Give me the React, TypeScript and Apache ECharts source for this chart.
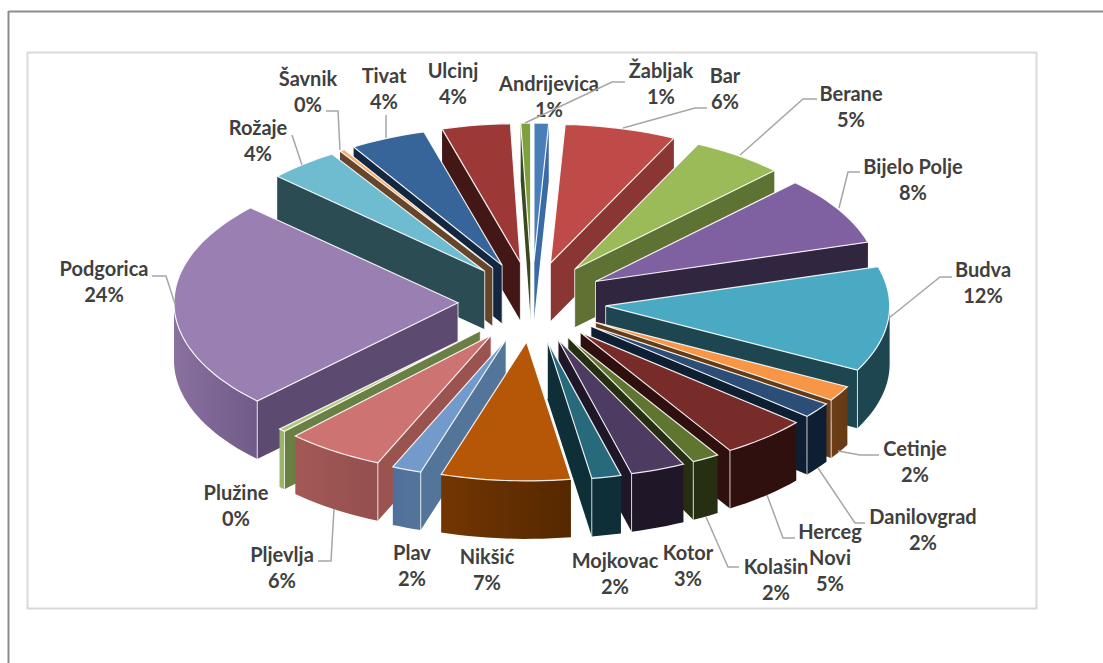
import React, { useEffect, useRef } from "react";
import * as echarts from "echarts";

const categories = [
  "Andrijevica", "Bar", "Berane", "Bijelo Polje", "Budva", "Cetinje", "Danilovgrad",
  "Herceg Novi", "Kolašin", "Kotor", "Mojkovac", "Nikšić", "Plav", "Pljevlja",
  "Plužine", "Podgorica", "Rožaje", "Šavnik", "Tivat", "Ulcinj", "Žabljak",
];
const shares = [
  0.83, 6.33, 5.25, 8.03, 12.22, 1.78, 1.81, 4.92, 1.56, 3.11, 1.67, 7.36, 1.67, 5.58,
  0.39, 24.47, 4.0, 0.28, 4.31, 3.89, 0.56,
];

const topColors = [
  "#4a7ebb", "#be4b48", "#9bbb59", "#7f60a0", "#4aa9c3", "#f79646", "#2c4d75", "#772c2a",
  "#5f7530", "#4d3b62", "#276a7c", "#b65708", "#729aca", "#cd7371", "#afc97a", "#9a7fb3",
  "#6fbbd0", "#f9ab6b", "#37659a", "#9c3836", "#7fa03f",
];
const wallColors = [
  "#3a6ba5", "#8a3634", "#5e7233", "#31263f", "#1d4650", "#653a16", "#0f1f33", "#30100f",
  "#272f12", "#1f1728", "#0f2f38", "#552800", "#54759a", "#9b5350", "#6a7f44", "#5c4a70",
  "#2c4c54", "#66452a", "#142740", "#421715", "#3b4a1e",
];
const outerLeft = [
  "#3a6ba5", "#8a3634", "#5e7233", "#31263f", "#1d4650", "#6b3f18", "#0f1f33", "#30100f",
  "#272f12", "#1f1728", "#0f2f38", "#733602", "#50709a", "#a45856", "#9ab56a", "#8a719f",
  "#2c4c54", "#66452a", "#142740", "#421715", "#3b4a1e",
];
const outerRight = [
  "#3a6ba5", "#8a3634", "#5e7233", "#31263f", "#1d4650", "#653a16", "#0f1f33", "#30100f",
  "#272f12", "#1f1728", "#0f2f38", "#552800", "#54759a", "#92504e", "#9ab56a", "#6f5a88",
  "#2c4c54", "#66452a", "#142740", "#421715", "#3b4a1e",
];

// label layout: centre of the text block
const labelCentres: [number, number][] = [
  [549, 96], [725, 88], [851, 106], [913, 179], [983, 282], [915, 461], [923, 529],
  [830, 557], [776, 579], [688, 565], [615, 573], [487, 569], [412, 565], [282, 567],
  [236, 505], [104, 281], [258, 140], [308, 91], [384, 88], [453, 83], [661, 83],
];
const labelLines: Record<string, string> = { "Herceg Novi": "Herceg\nNovi" };

// leader-line layout
const leaders: number[][][] = [
  [],
  [[707, 108], [695, 108], [623, 128]],
  [[817, 99], [803, 99], [740, 155]],
  [[860, 172], [848, 172], [839, 208]],
  [[952, 277], [940, 277], [889, 318]],
  [[879, 455], [860, 455], [838, 451]],
  [[865, 523], [855, 523], [818, 468]],
  [[795, 538], [783, 538], [767, 495]],
  [[739, 567], [728, 567], [706, 517]],
  [],
  [],
  [],
  [],
  [[318, 561], [331, 561], [334, 509]],
  [],
  [[152, 276], [166, 276], [175, 304]],
  [[292, 135], [302, 165]],
  [[326, 111], [338, 111], [340, 150]],
  [[386, 115], [386, 138]],
  [],
  [[625, 82], [612, 82], [525, 123]],
];

const CX = 532;
const CY = 302;
const RX = 284;
const RY = 139;
const DEPTH = 58;
const EX = 74;
const EY = 40;
const RAD = Math.PI / 180;

type Wedge = { index: number; a0: number; a1: number; mid: number; ax: number; ay: number };

const total = shares.reduce((s, v) => s + v, 0);
const wedges: Wedge[] = (() => {
  let acc = 0;
  return shares.map((v, index) => {
    const a0 = (acc / total) * 360;
    acc += v;
    const a1 = (acc / total) * 360;
    const mid = ((a0 + a1) / 2) * RAD;
    return { index, a0, a1, mid, ax: CX + EX * Math.sin(mid), ay: CY - EY * Math.cos(mid) };
  });
})();
const paintOrder = wedges
  .slice()
  .sort((p, q) => Math.cos(q.mid) - Math.cos(p.mid))
  .map((w) => w.index);

function rim(w: Wedge, deg: number): [number, number] {
  const t = deg * RAD;
  return [w.ax + RX * Math.sin(t), w.ay - RY * Math.cos(t)];
}
function arc(w: Wedge, from: number, to: number): [number, number][] {
  const n = Math.max(2, Math.ceil((to - from) / 2));
  const out: [number, number][] = [];
  for (let i = 0; i <= n; i++) out.push(rim(w, from + ((to - from) * i) / n));
  return out;
}
const drop = (p: [number, number]): [number, number] => [p[0], p[1] + DEPTH];

function renderWedge(_params: any, api: any) {
  const i = api.value(0) as number;
  const w = wedges[i];
  const children: any[] = [];
  const apex: [number, number] = [w.ax, w.ay];
  const edge = "rgba(255,255,255,0.9)";
  const wall = (c0: [number, number], c1: [number, number]) => ({
    type: "polygon",
    shape: { points: [c0, c1, drop(c1), drop(c0)] },
    style: { fill: wallColors[i] },
  });
  const vertical = (p: [number, number]) => ({
    type: "line",
    shape: { x1: p[0], y1: p[1], x2: p[0], y2: p[1] + DEPTH },
    style: { stroke: edge, lineWidth: 1, opacity: 0.85 },
  });

  const showStart = Math.sin(w.a0 * RAD) < 0;
  const showEnd = Math.sin(w.a1 * RAD) > 0;
  if (showStart) children.push(wall(apex, rim(w, w.a0)));
  if (showEnd) children.push(wall(apex, rim(w, w.a1)));

  const from = Math.max(w.a0, 90);
  const to = Math.min(w.a1, 270);
  let hasOuter = false;
  if (to > from) {
    hasOuter = true;
    const top = arc(w, from, to);
    children.push({
      type: "polygon",
      shape: { points: top.concat(top.map(drop).reverse()) },
      style: {
        fill: new echarts.graphic.LinearGradient(0, 0, 1, 0, [
          { offset: 0, color: outerLeft[i] },
          { offset: 1, color: outerRight[i] },
        ]),
      },
    });
  }
  if (showStart || showEnd) children.push(vertical(apex));
  if (showStart && hasOuter) children.push(vertical(rim(w, w.a0)));
  if (showEnd && hasOuter) children.push(vertical(rim(w, w.a1)));

  children.push({
    type: "polygon",
    shape: { points: [apex as [number, number]].concat(arc(w, w.a0, w.a1)) },
    style: { fill: topColors[i], stroke: edge, lineWidth: 1.2, lineJoin: "miter" },
  });
  return { type: "group", children };
}

function renderLabel(_params: any, api: any) {
  const i = api.value(0) as number;
  const name = categories[i];
  const percent = Math.round((shares[i] / total) * 100);
  const children: any[] = [];
  if (leaders[i].length) {
    children.push({
      type: "polyline",
      shape: { points: leaders[i] },
      style: { stroke: "#a6a6a6", lineWidth: 1.5, fill: "none" },
    });
  }
  children.push({
    type: "text",
    x: labelCentres[i][0],
    y: labelCentres[i][1],
    style: {
      text: `${labelLines[name] ?? name}\n${percent}%`,
      align: "center",
      verticalAlign: "middle",
      fill: "#404040",
      font: 'bold 20px Lato, "Open Sans", sans-serif',
      lineHeight: 26,
    },
  });
  return { type: "group", children };
}

export default function App() {
  const ref = useRef<HTMLDivElement>(null);
  useEffect(() => {
    if (!ref.current) return;
    const chart = echarts.init(ref.current, undefined, { renderer: "svg" });
    chart.setOption({
      animation: false,
      backgroundColor: "#ffffff",
      graphic: [
        { type: "line", silent: true, shape: { x1: 8.5, y1: 11.5, x2: 1103, y2: 11.5 }, style: { stroke: "#8c8c8c", lineWidth: 2 } },
        { type: "line", silent: true, shape: { x1: 8.5, y1: 11, x2: 8.5, y2: 663 }, style: { stroke: "#8c8c8c", lineWidth: 2 } },
        { type: "rect", silent: true, shape: { x: 27.5, y: 52.5, width: 1009, height: 556 }, style: { fill: "none", stroke: "#d9d9d9", lineWidth: 2 } },
      ],
      series: [
        {
          type: "custom",
          coordinateSystem: "none",
          clip: false,
          silent: true,
          z: 2,
          renderItem: renderWedge,
          data: paintOrder.map((i) => ({ name: categories[i], value: [i, shares[i]] })),
        },
        {
          type: "custom",
          coordinateSystem: "none",
          clip: false,
          silent: true,
          z: 3,
          renderItem: renderLabel,
          data: categories.map((name, i) => ({ name, value: [i, shares[i]] })),
        },
      ],
    });
    return () => chart.dispose();
  }, []);
  return <div ref={ref} style={{ position: "fixed", left: 0, top: 0, width: 1103, height: 663 }} />;
}
